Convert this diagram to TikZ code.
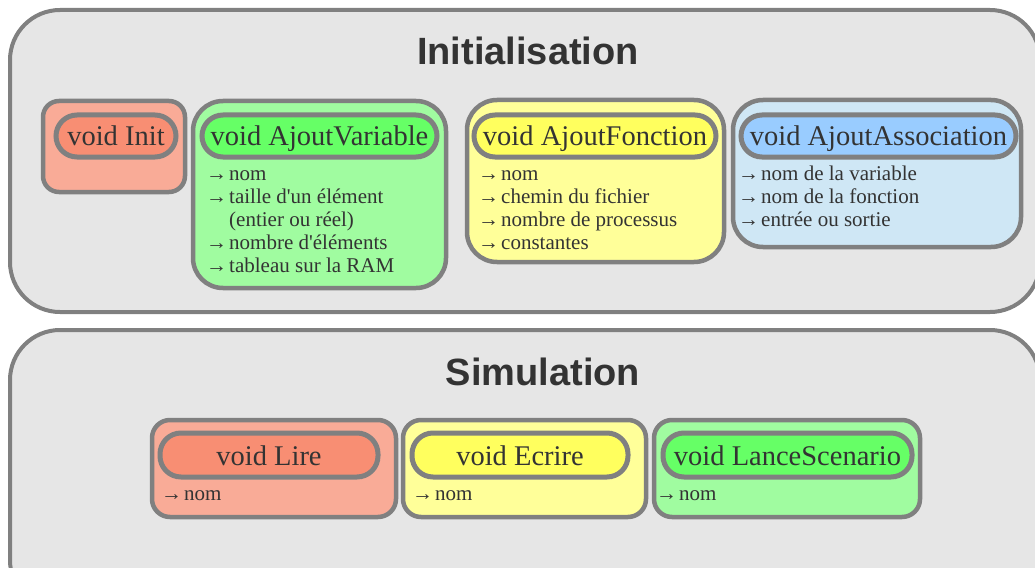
\documentclass[tikz,border=0pt]{standalone}
\usepackage{fontspec}
\setmainfont{Liberation Serif}
\newfontfamily\titlefont{Liberation Sans}
\usetikzlibrary{fit}
\definecolor{panelfill}{HTML}{E6E6E6}
\definecolor{edge}{HTML}{808080}
\definecolor{txt}{HTML}{333333}
\definecolor{salmonL}{HTML}{F9AB97}
\definecolor{salmonD}{HTML}{F88E73}
\definecolor{greenL}{HTML}{A0FCA0}
\definecolor{greenD}{HTML}{66FF66}
\definecolor{yellowL}{HTML}{FFFF99}
\definecolor{yellowD}{HTML}{FFFF5E}
\definecolor{blueL}{HTML}{CFE7F5}
\definecolor{blueD}{HTML}{99CCFF}
\newcommand{\arr}{→\kern2pt}
\tikzset{
  panel/.style={draw=edge, line width=4pt, fill=panelfill, rounded corners=50pt, inner sep=0pt},
  card/.style={draw=edge, line width=4.5pt, inner sep=0pt},
  pill/.style={draw=edge, line width=5pt, rounded corners=21pt, inner sep=0pt, minimum height=42pt, text=txt, text height=22pt, text depth=4pt, font=\fontsize{28.5}{30}\selectfont},
  pillS/.style={pill, minimum height=44pt, text height=23pt, text depth=3pt},
  ttl/.style={text=txt, font=\titlefont\bfseries\fontsize{38}{40}\selectfont, inner sep=0pt},
  items/.style={anchor=north west, align=left, inner sep=0pt, text=txt, font=\fontsize{21}{23}\selectfont},
}
\begin{document}
\begin{tikzpicture}[x=1pt,y=-1pt]
\useasboundingbox (0,0) rectangle (1035,567);
\clip (0,0) rectangle (1035,567);
\fill[white] (0,0) rectangle (1035,567);

% panels
\node[panel, fit={(10,10) (1040,312)}] (initpanel) {};
\node[panel, fit={(10,330) (1040,610)}] (simpanel) {};
\node[ttl] (inittitle) at (528,51) {Initialisation};
\node[ttl] (simtitle) at (543,372) {Simulation};

% Initialisation cards
\node[card, fill=salmonL, rounded corners=16pt, fit={(43,101) (185,192)}] (init) {};
\node[pill, fill=salmonD, minimum width=120pt] (initH) at (116,136) {void Init};

\node[card, fill=greenL, rounded corners=30pt, fit={(193,101) (446,288)}] (var) {};
\node[pill, fill=greenD, minimum width=235pt] (varH) at (319.5,136) {void AjoutVariable};
\node[items] (varT) at (206,164) {\strut\arr nom\\\strut\arr taille d\textquotesingle un élément\\\strut\phantom{\arr}(entier ou réel)\\\strut\arr nombre d\textquotesingle éléments\\\strut\arr tableau sur la RAM};

\node[card, fill=yellowL, rounded corners=30pt, fit={(467,100) (724,262)}] (fonc) {};
\node[pill, fill=yellowD, minimum width=242pt] (foncH) at (595,136) {void AjoutFonction};
\node[items] (foncT) at (478,164) {\strut\arr nom\\\strut\arr chemin du fichier\\\strut\arr nombre de processus\\\strut\arr constantes};

\node[card, fill=blueL, rounded corners=30pt, fit={(733,100) (1021,247)}] (assoc) {};
\node[pill, fill=blueD, minimum width=275pt] (assocH) at (878.5,136) {void AjoutAssociation};
\node[items] (assocT) at (738,164) {\strut\arr nom de la variable\\\strut\arr nom de la fonction\\\strut\arr entrée ou sortie};

% Simulation cards
\node[card, fill=salmonL, rounded corners=18pt, fit={(152,420) (396,517)}] (lire) {};
\node[pillS, fill=salmonD, minimum width=218pt] (lireH) at (269,455) {void Lire};
\node[items] (lireT) at (161,484) {\strut\arr nom};

\node[card, fill=yellowL, rounded corners=18pt, fit={(403,420) (646,517)}] (ecrire) {};
\node[pillS, fill=yellowD, minimum width=216pt] (ecrireH) at (520,455) {void Ecrire};
\node[items] (ecrireT) at (412,484) {\strut\arr nom};

\node[card, fill=greenL, rounded corners=18pt, fit={(654,420) (920,517)}] (lance) {};
\node[pillS, fill=greenD, minimum width=249pt] (lanceH) at (787.5,455) {void LanceScenario};
\node[items] (lanceT) at (656,484) {\strut\arr nom};
\end{tikzpicture}
\end{document}
